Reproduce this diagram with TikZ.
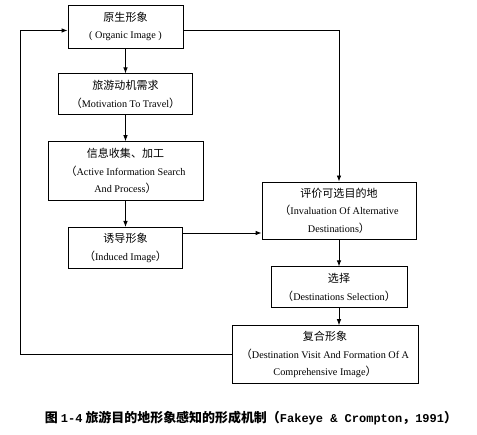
\documentclass[tikz,border=0pt]{standalone}
\usepackage{fontspec}
\setmainfont{Liberation Serif}
\setmonofont{Liberation Mono}
\newfontfamily\cjk{Noto Sans CJK SC}[Scale=1.08]
\usetikzlibrary{positioning,arrows.meta}

\begin{document}
\begin{tikzpicture}[x=1pt, y=-1pt, line width=0.8pt, >={Latex[length=6pt,width=4.5pt]},
        main/.style = {draw, align=center, inner sep=2pt, font=\fontsize{10.2}{17.5}\selectfont}]
            \useasboundingbox (0,0) rectangle (477,435);
            \node[main, minimum width=115pt, minimum height=43pt] (1) at (125.5,26.5) {{\cjk 原生形象}\\( Organic Image )};
            \node[main, minimum width=134pt, minimum height=41pt] (2) [below=25pt of 1] {{\cjk 旅游动机需求}\\{\cjk （}Motivation To Travel{\cjk ）}};
            \node[main, minimum width=155pt, minimum height=59pt] (3) [below=26pt of 2] {{\cjk 信息收集、加工}\\{\cjk （}Active Information Search\\And Process{\cjk ）}};
            \node[main, minimum width=114pt, minimum height=41pt] (4) [below=26pt of 3] {{\cjk 诱导形象}\\{\cjk （}Induced Image{\cjk ）}};
            \node[main, minimum width=154pt, minimum height=57pt] (5) at (339,210.5) {{\cjk 评价可选目的地}\\{\cjk （}Invaluation Of Alternative\\Destinations{\cjk ）}};
            \node[main, minimum width=136pt, minimum height=41pt] (6) [below=27pt of 5] {{\cjk 选择}\\{\cjk （}Destinations Selection{\cjk ）}};
            \node[main, minimum width=186pt, minimum height=58pt] (7) [below=17pt of 6, xshift=-14pt] {{\cjk 复合形象}\\{\cjk （}Destination Visit And Formation Of A\\Comprehensive Image{\cjk ）}};
            \node[font=\fontsize{12}{14}\selectfont\bfseries] (8) at (251,418) {{\cjk 图} \texttt{1-4} {\cjk 旅游目的地形象感知的形成机制（}\texttt{Fakeye \& Crompton}{\cjk ，}\texttt{1991}{\cjk ）}};

            \draw[->] (1) -- (2);
            \draw[->] (2) -- (3);
            \draw[->] (3) -- (4);
            \draw[->] (5) -- (6);
            \draw[->] (6.south) -- (6.south |- 7.north);
            \draw[->] ([yshift=-4pt]1.east) -| (5.north);
            \coordinate (a) at ([yshift=-6pt]4.north east);
            \draw[->] (a) -- (a -| 5.west);
            \draw[->] (7.west) -- ++(-211pt,0) |- ([yshift=-4pt]1.west);
        \end{tikzpicture}
\end{document}
